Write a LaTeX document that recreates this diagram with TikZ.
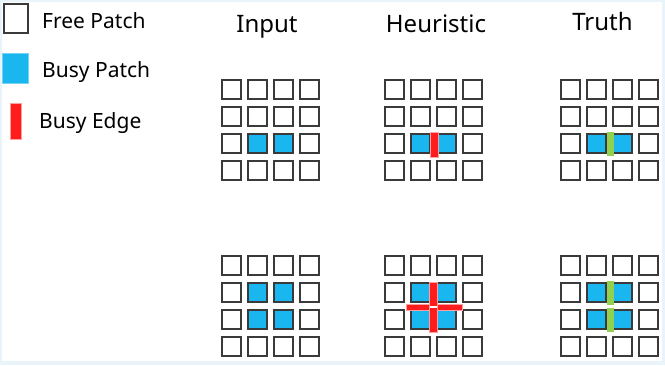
\documentclass[tikz,border=0pt]{standalone}
\usepackage{fontspec}
\setmainfont{Noto Sans}
\usepackage{tikz}
\usetikzlibrary{calc,positioning}
\definecolor{DeepGray}{HTML}{3A3A3A}
\definecolor{BusyBlue}{HTML}{1AB6EF}
\definecolor{EdgeRed}{HTML}{FF1C1C}
\definecolor{EdgePink}{HTML}{FFA0A0}
\definecolor{TruthGreen}{HTML}{92D050}
\definecolor{FrameBlue}{HTML}{E9F4FA}
\tikzset{
  patch/.style={draw=DeepGray,line width=2.3pt,fill=white,minimum size=19.4pt,
              inner sep=0pt,outer sep=0pt},
  busy/.style={patch,fill=BusyBlue},
  redbar/.style={fill=EdgeRed,draw=EdgePink,line width=0.6pt,inner sep=0pt,outer sep=0pt},
  greenbar/.style={fill=TruthGreen,inner sep=0pt,outer sep=0pt},
  title/.style={font=\fontsize{24}{28}\selectfont,anchor=base,inner sep=0pt},
  legend/.style={font=\fontsize{21}{25}\selectfont,anchor=base west,inner sep=0pt}
}
% 4x4 grid of patches: name, centre of first patch (x,y)
\newcommand{\patchgrid}[3]{
  \foreach \r in {1,...,4}{
    \foreach \c in {1,...,4}{
      \node[patch] (#1-\r-\c) at ({#2+26*(\c-1)},{#3+27*(\r-1)}) {};
    }
  }
}

\begin{document}
\begin{tikzpicture}[x=1pt,y=-1pt]
  \fill[FrameBlue] (0,0) rectangle (665,365);
  \fill[white] (2,2) rectangle (662,361);
  \useasboundingbox (0,0) rectangle (665,365);

  % legend
  \node[patch,line width=2pt,minimum width=24pt,minimum height=29pt] (freekey) at (16,18.5) {};
  \node[fill=BusyBlue,draw=BusyBlue!60,line width=0.6pt,minimum width=26pt,minimum height=30pt,
        inner sep=0pt] (busykey) at (15.5,68.5) {};
  \node[redbar,minimum width=11pt,minimum height=36pt] (edgekey) at (16,121.5) {};
  \node[legend] (freetext) at (42,28) {Free Patch};
  \node[legend] (busytext) at (42,77) {Busy Patch};
  \node[legend] (edgetext) at (39,128) {Busy Edge};

  % column titles
  \node[title] (intitle) at (267,32) {Input};
  \node[title] (heutitle) at (436,32) {Heuristic};
  \node[title] (trutitle) at (602.5,30) {Truth};

  % grids
  \patchgrid{in1}{231.5}{89.5}
  \patchgrid{heu1}{394.5}{89.5}
  \patchgrid{tru1}{570.5}{89.5}
  \patchgrid{in2}{231.5}{265.5}
  \patchgrid{heu2}{394.5}{265.5}
  \patchgrid{tru2}{570.5}{265.5}

  % busy patches
  \foreach \g in {in1,heu1,tru1}{
    \foreach \p [count=\k] in {3-2,3-3}
      \node[busy] (\g-busy-\k) at (\g-\p) {};
  }
  \foreach \g in {in2,heu2,tru2}{
    \foreach \p [count=\k] in {2-2,2-3,3-2,3-3}
      \node[busy] (\g-busy-\k) at (\g-\p) {};
  }

  % busy edges
  \node[redbar,minimum width=8pt,minimum height=25pt] (heu1-edge)
    at ($(heu1-3-2)!.5!(heu1-3-3)+(0.5,1)$) {};
  \node[redbar,minimum width=56pt,minimum height=6pt] (heu2-hedge)
    at ($(heu2-2-2)!.5!(heu2-3-3)+(0.5,1)$) {};
  \node[redbar,minimum width=8pt,minimum height=50pt] (heu2-vedge)
    at ($(heu2-2-2)!.5!(heu2-3-3)+(-0.5,1)$) {};
  \node[fill=white,inner sep=0pt,minimum width=7pt,minimum height=2pt] (heu2-gap)
    at (heu2-vedge) {};

  % true edges
  \node[greenbar,minimum width=7pt,minimum height=24pt] (tru1-edge)
    at ($(tru1-3-2)!.5!(tru1-3-3)+(1,0.5)$) {};
  \node[greenbar,minimum width=7pt,minimum height=24pt] (tru2-edge1)
    at ($(tru2-2-2)!.5!(tru2-2-3)+(1,0.5)$) {};
  \node[greenbar,minimum width=7pt,minimum height=24pt] (tru2-edge2)
    at ($(tru2-3-2)!.5!(tru2-3-3)+(1,0.5)$) {};
\end{tikzpicture}
\end{document}
